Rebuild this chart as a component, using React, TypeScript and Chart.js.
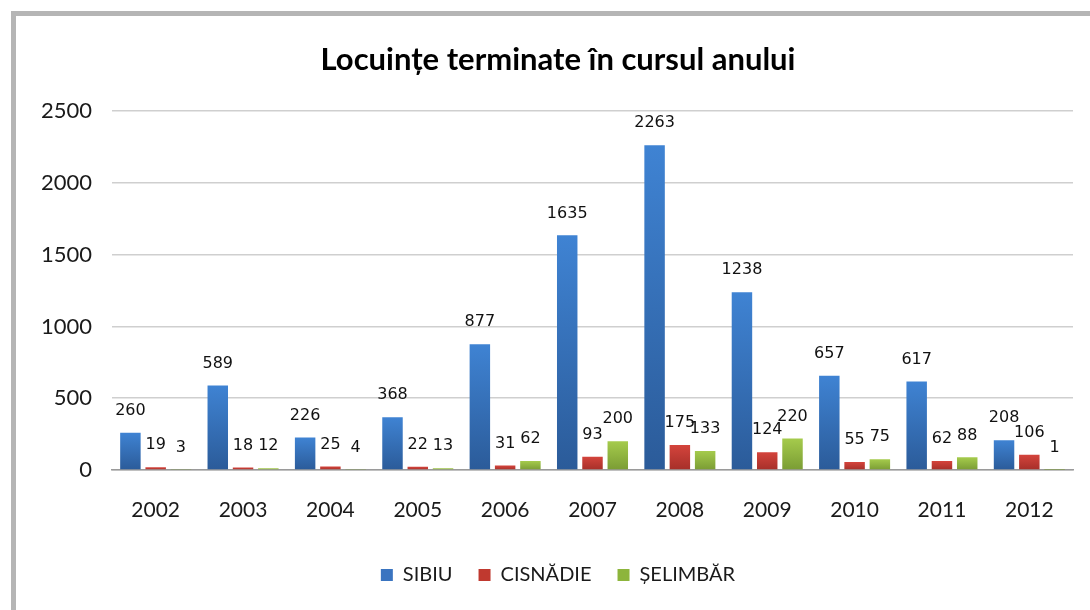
import React, { useEffect, useRef } from "react";
import { Chart, registerables } from "chart.js";

Chart.register(...registerables);

const years = ["2002", "2003", "2004", "2005", "2006", "2007", "2008", "2009", "2010", "2011", "2012"];
const sibiu = [260, 589, 226, 368, 877, 1635, 2263, 1238, 657, 617, 208];
const cisnadie = [19, 18, 25, 22, 31, 93, 175, 124, 55, 62, 106];
const selimbar = [3, 12, 4, 13, 62, 200, 133, 220, 75, 88, 1];
const seriesNames = ["SIBIU", "CISNĂDIE", "ȘELIMBĂR"];
const yTicks = [0, 500, 1000, 1500, 2000, 2500];

const palettes = [
  { top: "#3f83d3", bottom: "#2b5b99", legend: "#3a74c0" },
  { top: "#d4443c", bottom: "#a62f29", legend: "#c0392f" },
  { top: "#a5cb4c", bottom: "#7a9c34", legend: "#8db53c" },
];

function barGradient(pi: number) {
  return (ctx: any) => {
    const chart = ctx.chart;
    const y = chart.scales?.y;
    if (!y || ctx.type !== "data") return palettes[pi].legend;
    const v = ctx.raw as number;
    const top = y.getPixelForValue(v);
    const base = y.getPixelForValue(0);
    if (!isFinite(top) || !isFinite(base) || Math.abs(base - top) < 1) return palettes[pi].bottom;
    const g = chart.ctx.createLinearGradient(0, top, 0, base);
    g.addColorStop(0, palettes[pi].top);
    g.addColorStop(1, palettes[pi].bottom);
    return g;
  };
}

const labelPlugin = {
  id: "barLabels",
  afterDatasetsDraw(chart: any) {
    const ctx = chart.ctx;
    ctx.save();
    ctx.font = "16px 'DejaVu Sans'";
    ctx.fillStyle = "#111";
    ctx.textAlign = "center";
    ctx.textBaseline = "middle";
    chart.data.datasets.forEach((ds: any, di: number) => {
      const meta = chart.getDatasetMeta(di);
      meta.data.forEach((bar: any, i: number) => {
        ctx.fillText(String(ds.data[i]), bar.x, bar.y - 22);
      });
    });
    ctx.restore();
  },
};

export default function App() {
  const ref = useRef<HTMLCanvasElement | null>(null);
  useEffect(() => {
    if (!ref.current) return;
    const chart = new Chart(ref.current, {
      type: "bar",
      data: {
        labels: years,
        datasets: [sibiu, cisnadie, selimbar].map((d, i) => ({
          label: seriesNames[i],
          data: d,
          backgroundColor: barGradient(i),
          borderWidth: 0,
          categoryPercentage: 0.868,
          barPercentage: 0.81,
        })),
      },
      options: {
        animation: false,
        responsive: false,
        layout: { padding: { left: 26, right: 0, top: 0, bottom: 15 } },
        scales: {
          x: {
            grid: { display: false, drawTicks: false },
            border: { display: true, color: "#9a9a9a", width: 1.5 },
            ticks: { padding: 28, color: "#1a1a1a", font: { family: "Lato", size: 21 } },
            afterFit: (s: any) => {
              s.height = 69;
            },
          },
          y: {
            min: 0,
            max: 2500,
            afterBuildTicks: (s: any) => {
              s.ticks = yTicks.map((v) => ({ value: v }));
            },
            grid: { color: "#cfcfcf", lineWidth: 1.5, drawTicks: false },
            border: { display: false },
            ticks: {
              padding: 20,
              color: "#1a1a1a",
              font: { family: "Lato", size: 22 },
              callback: (v: any) => String(v),
            },
            afterFit: (s: any) => {
              s.width = 86;
            },
          },
          yRight: {
            type: "linear",
            position: "right",
            display: true,
            grid: { display: false, drawTicks: false },
            border: { display: false },
            ticks: { display: false },
            afterFit: (s: any) => {
              s.width = 17;
            },
          },
        },
        plugins: {
          title: {
            display: true,
            text: "Locuințe terminate în cursul anului",
            color: "#000",
            font: { family: "Lato", size: 31, weight: "bold" },
            padding: { top: 41, bottom: 33 },
          },
          legend: {
            position: "bottom",
            labels: {
              color: "#1a1a1a",
              font: { family: "Lato", size: 20 },
              boxWidth: 12,
              boxHeight: 12,
              padding: 26,
              generateLabels: (chart: any) =>
                chart.data.datasets.map((ds: any, i: number) => ({
                  text: ds.label,
                  fillStyle: palettes[i].legend,
                  strokeStyle: palettes[i].legend,
                  lineWidth: 0,
                  datasetIndex: i,
                  fontColor: "#1a1a1a",
                })),
            },
          },
          tooltip: { enabled: false },
        },
      },
      plugins: [labelPlugin],
    });
    return () => chart.destroy();
  }, []);
  return (
    <div style={{ position: "fixed", left: 0, top: 0, width: 1090, height: 610, background: "#fff", overflow: "hidden" }}>
      <div
        style={{
          position: "absolute",
          left: 11,
          top: 11,
          width: 1100,
          height: 620,
          borderTop: "5px solid #b5b5b5",
          borderLeft: "5px solid #b5b5b5",
          boxSizing: "border-box",
        }}
      />
      <canvas ref={ref} width={1090} height={610} style={{ position: "absolute", left: 0, top: 0 }} />
    </div>
  );
}
